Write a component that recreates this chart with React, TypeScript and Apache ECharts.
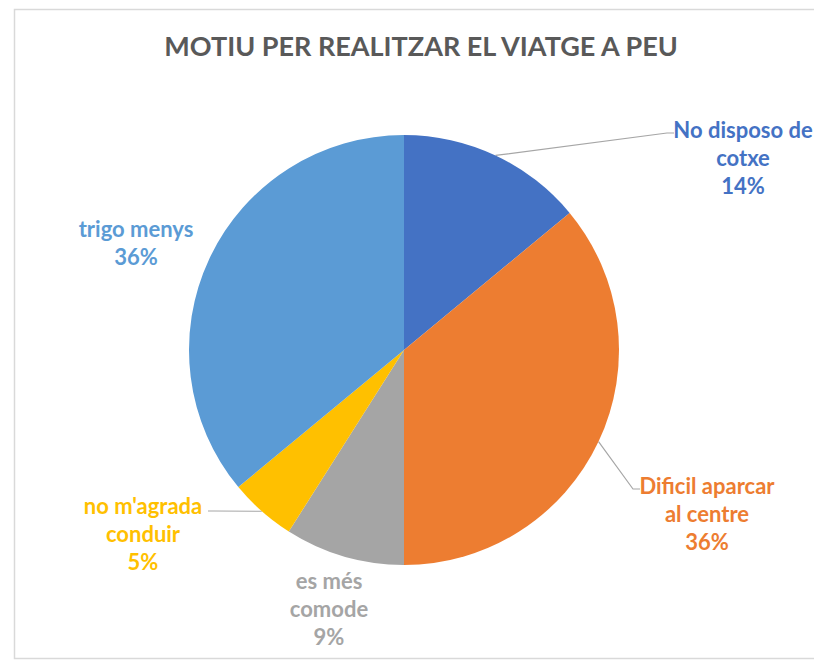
import React, { useEffect, useRef } from "react";
import * as echarts from "echarts";

const titleText = "MOTIU PER REALITZAR EL VIATGE A PEU";
const categories = [
  "No disposo de\ncotxe",
  "Dificil aparcar\nal centre",
  "es més\ncomode",
  "no m'agrada\nconduir",
  "trigo menys",
];
const values = [14, 36, 9, 5, 36];
const colors = ["#4472C4", "#ED7D31", "#A5A5A5", "#FFC000", "#5B9BD5"];

// label layout (positions only)
const labelPos = [
  { x: 743, y: 157, line: [[667, 133], [674, 133]] },
  { x: 707, y: 513, line: [[633, 489], [640, 489]] },
  { x: 329, y: 608, line: null },
  { x: 143, y: 533, line: [[214, 511], [208, 511]] },
  { x: 136, y: 242, line: null },
];

export default function App() {
  const ref = useRef<HTMLDivElement>(null);
  useEffect(() => {
    if (!ref.current) return;
    const chart = echarts.init(ref.current, undefined, { renderer: "svg" });
    const font = "Lato, 'Open Sans', sans-serif";
    chart.setOption({
      animation: false,
      backgroundColor: "#ffffff",
      title: {
        text: titleText,
        left: 416,
        top: 27,
        textAlign: "center",
        textStyle: {
          color: "#595959",
          fontFamily: font,
          fontSize: 27,
          fontWeight: "bold",
        },
      },
      graphic: [
        {
          type: "rect",
          shape: { x: 14.5, y: 9.5, width: 900, height: 649 },
          style: { fill: "none", stroke: "#d9d9d9", lineWidth: 1.5 },
          silent: true,
          z: -1,
        },
      ],
      series: [
        {
          type: "pie",
          center: [404, 350],
          radius: 215,
          startAngle: 90,
          clockwise: true,
          avoidLabelOverlap: false,
          itemStyle: { borderWidth: 0 },
          label: {
            show: true,
            position: "outside",
            fontFamily: font,
            fontSize: 22,
            fontWeight: "bold",
            lineHeight: 28,
            align: "center",
            formatter: (p: any) => `${p.name}\n${p.value}%`,
          },
          labelLine: {
            show: true,
            lineStyle: { color: "#a6a6a6", width: 1.2 },
            smooth: false,
          },
          labelLayout: (params: any) => {
            const lp = labelPos[params.dataIndex];
            const out: any = {
              x: lp.x,
              y: lp.y,
              align: "center",
              verticalAlign: "middle",
            };
            if (lp.line && params.labelLinePoints) {
              out.labelLinePoints = [params.labelLinePoints[0], lp.line[0], lp.line[1]];
            }
            return out;
          },
          data: categories.map((name, i) => ({
            name,
            value: values[i],
            itemStyle: { color: colors[i] },
            label: { color: colors[i] },
            labelLine: { show: labelPos[i].line !== null },
          })),
        },
      ],
    });
    return () => chart.dispose();
  }, []);
  return (
    <div
      ref={ref}
      style={{ position: "absolute", left: 0, top: 0, width: 814, height: 660 }}
    />
  );
}
